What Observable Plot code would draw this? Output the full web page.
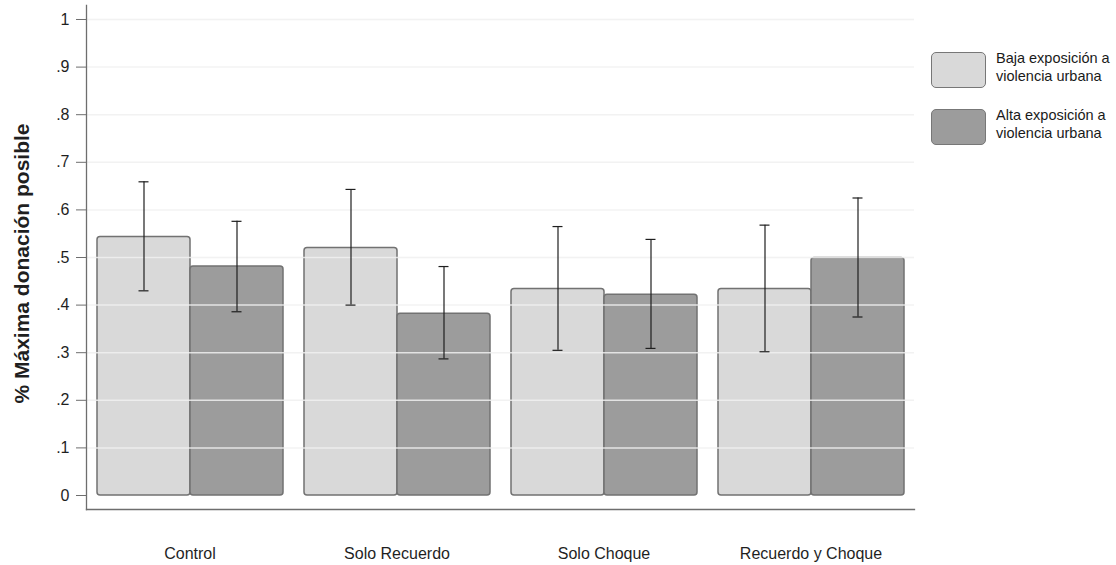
<!DOCTYPE html>
<html>
<head>
<meta charset="utf-8">
<script src="https://cdn.jsdelivr.net/npm/d3@7"></script>
<script src="https://cdn.jsdelivr.net/npm/@observablehq/plot@0.6"></script>
<style>
  body { margin: 0; background: #fff; }
  #chart { position: relative; width: 1116px; height: 565px; font-family: "Liberation Sans", Arial, sans-serif; color: #1a1a1a; }
  #chart svg { position: absolute; left: 0; top: 0; }
  .swatch { position: absolute; left: 931px; width: 55px; height: 36px; box-sizing: border-box; border: 1.5px solid #777; border-radius: 5px; }
  .label { position: absolute; left: 996px; font-size: 14.5px; line-height: 18px; white-space: nowrap; }
</style>
</head>
<body>
<div id="chart"></div>
<script>
// Grupos experimentales y series
const groups = ["Control", "Solo Recuerdo", "Solo Choque", "Recuerdo y Choque"];
const seriesNames = ["Baja exposición a violencia urbana", "Alta exposición a violencia urbana"];
const seriesLines = [["Baja exposición a", "violencia urbana"], ["Alta exposición a", "violencia urbana"]];

// Media e intervalo de confianza por grupo
const bajaMean = [0.543, 0.520, 0.434, 0.434];
const bajaLo   = [0.430, 0.400, 0.305, 0.302];
const bajaHi   = [0.659, 0.643, 0.565, 0.568];
const altaMean = [0.481, 0.382, 0.422, 0.499];
const altaLo   = [0.386, 0.287, 0.309, 0.375];
const altaHi   = [0.576, 0.481, 0.538, 0.625];

// Eje Y
const yTicks = [0, 0.1, 0.2, 0.3, 0.4, 0.5, 0.6, 0.7, 0.8, 0.9, 1];
const yTickLabels = ["0", ".1", ".2", ".3", ".4", ".5", ".6", ".7", ".8", ".9", "1"];
const yTitle = "% Máxima donación posible";
const colors = ["#d9d9d9", "#9c9c9c"];

const rows = groups.flatMap((g, i) => [
  {group: g, serie: seriesNames[0], mean: bajaMean[i], lo: bajaLo[i], hi: bajaHi[i]},
  {group: g, serie: seriesNames[1], mean: altaMean[i], lo: altaLo[i], hi: altaHi[i]}
]);

const ink = "#1f1f1f";
const errStyle = {fx: "group", x: "serie", stroke: ink, strokeWidth: 1.2};

const chart = Plot.plot({
  width: 1116,
  height: 565,
  marginLeft: 86,
  marginRight: 202,
  marginTop: 5,
  marginBottom: 56,
  style: {fontFamily: "'Liberation Sans', Arial, sans-serif", fontSize: "16px", color: ink, background: "#fff", overflow: "visible"},
  fx: {domain: groups, paddingInner: 0, paddingOuter: 0, label: null},
  x: {domain: seriesNames, paddingInner: 0, paddingOuter: 0.105, axis: null},
  y: {domain: [-0.0294, 1.0294], axis: null},
  color: {domain: seriesNames, range: colors},
  marks: [
    Plot.barY(rows, {fx: "group", x: "serie", y: "mean", fill: "serie", stroke: "#727272", strokeWidth: 1.5, rx: 3}),
    Plot.gridY({ticks: yTicks.filter(d => d > 0), stroke: "#f0f0f0", strokeOpacity: 0.85, strokeWidth: 1.5}),
    Plot.ruleX(rows, {...errStyle, y1: "lo", y2: "hi"}),
    Plot.tickY(rows, {...errStyle, y: "lo", insetLeft: 41.5, insetRight: 41.5}),
    Plot.tickY(rows, {...errStyle, y: "hi", insetLeft: 41.5, insetRight: 41.5}),
    Plot.frame({anchor: "bottom", facet: "super", stroke: "#6e6e6e", strokeWidth: 1.3}),
    Plot.frame({anchor: "left", facet: "super", stroke: "#6e6e6e", strokeWidth: 1.3}),
    Plot.axisY({ticks: yTicks, tickFormat: d => yTickLabels[yTicks.indexOf(d)], tickSize: 10, tickPadding: 7, stroke: "#6e6e6e", fontSize: 16, label: null}),
    Plot.text([yTitle], {facet: "super", frameAnchor: "left", textAnchor: "middle", dx: -64, dy: 6, rotate: -90, fontSize: 21, fontWeight: "bold", text: d => d}),
    Plot.axisFx({anchor: "bottom", tickSize: 0, tickPadding: 38, fontSize: 16, label: null})
  ]
});

const root = document.getElementById("chart");
root.appendChild(chart);

// Leyenda a la derecha del gráfico
const legendTops = [52, 109];
seriesNames.forEach((s, i) => {
  const sw = document.createElement("div");
  sw.className = "swatch";
  sw.style.top = legendTops[i] + "px";
  sw.style.background = colors[i];
  root.appendChild(sw);
  const lb = document.createElement("div");
  lb.className = "label";
  lb.style.top = (legendTops[i] - 3) + "px";
  lb.innerHTML = seriesLines[i].join("<br>");
  root.appendChild(lb);
});
</script>
</body>
</html>
